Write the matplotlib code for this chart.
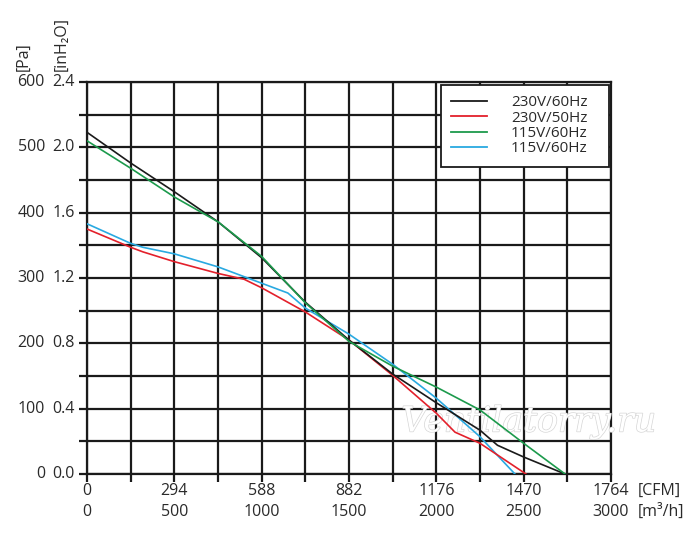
import matplotlib
matplotlib.use("Agg")
import matplotlib.pyplot as plt
import matplotlib.patheffects as pe
import numpy as np

# airflow [m3/h] vs static pressure [Pa]
flow_230_60 = [0, 250, 500, 750, 1000, 1250, 1500, 1750, 2000, 2250, 2350, 2500, 2737]
pres_230_60 = [523, 476, 432, 386, 331, 263, 205, 153, 109, 67, 44, 26, 0]

flow_230_50 = [0, 250, 320, 500, 750, 900, 1000, 1250, 1500, 1750, 2000, 2107, 2250, 2513]
pres_230_50 = [375, 347, 340, 325, 307, 298, 285, 248, 205, 151, 93, 64, 47, 0]

flow_115_60 = [0, 250, 500, 750, 1000, 1250, 1500, 1750, 2000, 2250, 2500, 2737]
pres_115_60 = [510, 468, 424, 386, 333, 262, 203, 165, 133, 98, 47, 0]

flow_115_60b = [0, 250, 320, 500, 750, 1000, 1150, 1250, 1500, 1750, 2000, 2250, 2450]
pres_115_60b = [383, 353, 347, 337, 317, 292, 277, 254, 214, 168, 116, 57, 0]

series_labels = ["230V/60Hz", "230V/50Hz", "115V/60Hz", "115V/60Hz"]
series_colors = ["#1a1a1a", "#e3202b", "#1c9a4c", "#29a9e1"]

pa_ticks = [0, 100, 200, 300, 400, 500, 600]
inh2o_labels = ["0.0", "0.4", "0.8", "1.2", "1.6", "2.0", "2.4"]
m3h_ticks = [0, 500, 1000, 1500, 2000, 2500, 3000]
cfm_labels = ["0", "294", "588", "882", "1176", "1470", "1764"]

plt.rcParams["font.family"] = ["Open Sans", "DejaVu Sans"]
FS = 11.5
TXT = "#2a2a2a"

fig = plt.figure(figsize=(7.0, 5.46), dpi=100)
ax = fig.add_axes([87 / 700, 72 / 546, 524 / 700, 392 / 546])

ax.set_xlim(0, 3000)
ax.set_ylim(0, 600)
ax.set_xticks(np.arange(0, 3001, 250))
ax.set_yticks(np.arange(0, 601, 50))
ax.tick_params(axis="both", length=6, width=1.6, color="#1a1a1a",
               labelbottom=False, labelleft=False)
ax.grid(True, color="#1a1a1a", linewidth=1.6)
ax.set_axisbelow(True)
for s in ax.spines.values():
    s.set_linewidth(1.6)
    s.set_color("#1a1a1a")

flows = [flow_230_60, flow_230_50, flow_115_60, flow_115_60b]
pres = [pres_230_60, pres_230_50, pres_115_60, pres_115_60b]
# draw order: green and black on top like the source
for i in [3, 1, 0, 2]:
    ax.plot(flows[i], pres[i], color=series_colors[i], linewidth=1.2, zorder=4)

handles = [plt.Line2D([], [], color=c, linewidth=1.3) for c in series_colors]
leg = ax.legend(handles, series_labels, loc="upper left", mode="expand",
                bbox_to_anchor=(0.6756, 0.0, 0.3206, 0.9923), frameon=True,
                fancybox=False, edgecolor="#1a1a1a", framealpha=1,
                handlelength=2.3, handletextpad=1.6, labelspacing=0.02,
                borderpad=0.68, borderaxespad=0, prop={"size": 11})
leg.get_frame().set_linewidth(1.3)
leg.set_zorder(6)
for t in leg.get_texts():
    t.set_color(TXT)

txt_kw = dict(fontsize=FS, color=TXT, annotation_clip=False)
for v, lab in zip(pa_ticks, inh2o_labels):
    ax.annotate(str(v), xy=(0, v), xycoords=("axes fraction", "data"),
                xytext=(-42, 0), textcoords="offset pixels",
                ha="right", va="center", **txt_kw)
    ax.annotate(lab, xy=(0, v), xycoords=("axes fraction", "data"),
                xytext=(-12, 0), textcoords="offset pixels",
                ha="right", va="center", **txt_kw)

for v, lab in zip(m3h_ticks, cfm_labels):
    ax.annotate(lab, xy=(v, 0), xycoords=("data", "axes fraction"),
                xytext=(0, -17), textcoords="offset pixels",
                ha="center", va="center", **txt_kw)
    ax.annotate(str(v), xy=(v, 0), xycoords=("data", "axes fraction"),
                xytext=(0, -38), textcoords="offset pixels",
                ha="center", va="center", **txt_kw)

fig.text(638 / 700, 1 - 491 / 546, "[CFM]", ha="left", va="center",
         fontsize=FS, color=TXT)
fig.text(638 / 700, 1 - 512 / 546, "[m³/h]", ha="left", va="center",
         fontsize=FS, color=TXT)
fig.text(24 / 700, 1 - 71 / 546, "[Pa]", rotation=90, ha="center",
         va="bottom", fontsize=FS, color=TXT)
fig.text(62 / 700, 1 - 71 / 546, "[inH₂O]", rotation=90, ha="center",
         va="bottom", fontsize=FS, color=TXT)

wm = ax.text(2530, 80, "Ventilatorry.ru", fontsize=25, style="italic",
             family="DejaVu Serif", color="white", ha="center", va="center",
             zorder=3)
wm.set_path_effects([pe.withStroke(linewidth=1.0, foreground="#d6d6d6")])

fig.savefig("out.png", dpi=100)
